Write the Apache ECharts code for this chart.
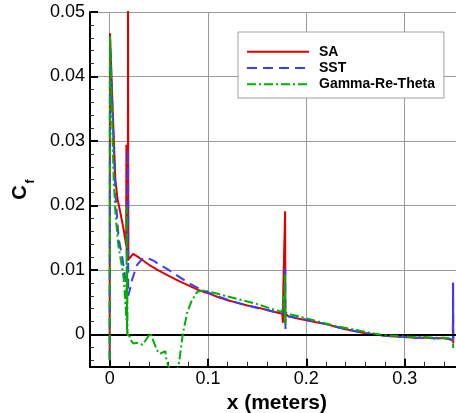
<!DOCTYPE html>
<html>
<head>
<meta charset="utf-8">
<script src="https://cdn.jsdelivr.net/npm/echarts@6/dist/echarts.min.js"></script>
<style>html,body{margin:0;padding:0;background:#fff;}#chart{width:456px;height:413px;}</style>
</head>
<body>
<div id="chart"></div>
<script>
// ---- data (x in meters, Cf) ----
const seriesNames = ['SA', 'SST', 'Gamma-Re-Theta'];

const saData = [
  [0, -0.0037], [0.0003, 0.0467], [0.003, 0.0352], [0.0058, 0.0240], [0.008, 0.0210],
  [0.011, 0.0188], [0.0143, 0.0162], [0.0168, 0.0138], [0.0170, 0.0294], [0.0173, 0.0125],
  [0.0185, 0.0114], [0.0187, 0.0560], [0.0190, 0.0116], [0.0204, 0.0116], [0.0238, 0.0125],
  [0.03, 0.0119], [0.04, 0.0108], [0.05, 0.0099], [0.06, 0.0091], [0.07, 0.0083],
  [0.08, 0.0076], [0.09, 0.0069], [0.10, 0.0064], [0.11, 0.0058], [0.12, 0.0053],
  [0.13, 0.0049], [0.14, 0.0045], [0.15, 0.0042], [0.16, 0.0038], [0.17, 0.0034],
  [0.1755, 0.0032], [0.1762, 0.0018], [0.1765, 0.0069], [0.1782, 0.0069], [0.1784, 0.0191],
  [0.1787, 0.0032], [0.182, 0.0028], [0.19, 0.0025], [0.20, 0.0022], [0.21, 0.0019],
  [0.22, 0.0016], [0.23, 0.0012], [0.24, 0.0008], [0.25, 0.0005], [0.26, 0.0002],
  [0.27, 0.0000], [0.28, -0.0002], [0.29, -0.0003], [0.30, -0.0004], [0.31, -0.0005],
  [0.32, -0.0005], [0.33, -0.0006], [0.34, -0.0006], [0.3465, -0.0008], [0.3490, -0.0010],
  [0.3492, 0.0080], [0.3494, -0.0014]
];

const sstData = [
  [0, -0.0040], [0.0003, 0.0462], [0.003, 0.0340], [0.006, 0.0215], [0.009, 0.0150],
  [0.013, 0.0118], [0.016, 0.0085], [0.0175, 0.0069], [0.0185, 0.0072], [0.0187, 0.0287],
  [0.0189, 0.0060], [0.021, 0.0072], [0.0228, 0.0085], [0.0279, 0.0108], [0.033, 0.0117],
  [0.038, 0.0119], [0.045, 0.0114], [0.05, 0.0109], [0.06, 0.0100], [0.07, 0.0090],
  [0.08, 0.0080], [0.09, 0.0072], [0.10, 0.0065], [0.11, 0.0059], [0.12, 0.0054],
  [0.13, 0.0049], [0.14, 0.0045], [0.15, 0.0041], [0.16, 0.0038], [0.17, 0.0034],
  [0.1780, 0.0033], [0.1785, 0.0103], [0.1787, 0.0007], [0.1790, 0.0030], [0.182, 0.0028],
  [0.19, 0.0026], [0.20, 0.0023], [0.21, 0.0019], [0.22, 0.0016], [0.23, 0.0012],
  [0.24, 0.0008], [0.25, 0.0005], [0.26, 0.0002], [0.27, 0.0000], [0.28, -0.0002],
  [0.29, -0.0003], [0.30, -0.0004], [0.31, -0.0005], [0.32, -0.0005], [0.33, -0.0006],
  [0.34, -0.0006], [0.3465, -0.0007], [0.3490, -0.0009], [0.3492, 0.0080], [0.3494, -0.0015]
];

const grtData = [
  [0, -0.0040], [0.0003, 0.0462], [0.002, 0.0360], [0.0041, 0.0240], [0.006, 0.0185],
  [0.009, 0.0136], [0.012, 0.0110], [0.014, 0.0090], [0.0158, 0.0055], [0.0170, 0.0023],
  [0.0173, 0.0198], [0.0176, 0.0002], [0.0178, 0.0100], [0.0182, -0.0002], [0.0193, 0.0002],
  [0.021, -0.0008], [0.024, -0.0014], [0.028, -0.0013], [0.0335, -0.0016], [0.0414, 0.0002],
  [0.048, -0.0024], [0.051, -0.0030], [0.053, -0.0028], [0.0566, -0.0026], [0.058, -0.0042],
  [0.064, -0.0065], [0.070, -0.0050], [0.0743, 0.0000], [0.0787, 0.0033], [0.083, 0.0051],
  [0.0889, 0.0066], [0.095, 0.0068], [0.10, 0.0067], [0.11, 0.0063], [0.12, 0.0059],
  [0.13, 0.0055], [0.14, 0.0051], [0.15, 0.0047], [0.16, 0.0042], [0.17, 0.0037],
  [0.1755, 0.0035], [0.1765, 0.0060], [0.1775, 0.0040], [0.1782, 0.0093], [0.1785, 0.0015],
  [0.1790, 0.0034], [0.184, 0.0031], [0.19, 0.0029], [0.20, 0.0025], [0.21, 0.0021],
  [0.22, 0.0017], [0.23, 0.0013], [0.24, 0.0010], [0.25, 0.0007], [0.26, 0.0004],
  [0.27, 0.0001], [0.28, -0.0001], [0.29, -0.0002], [0.30, -0.0003], [0.31, -0.0004],
  [0.32, -0.0004], [0.33, -0.0005], [0.34, -0.0005], [0.3465, -0.0006], [0.3490, -0.0008],
  [0.3493, -0.0021]
];

// ---- axis ticks ----
const xMajor = [0, 0.1, 0.2, 0.3];
const xMinor = [0.02, 0.04, 0.06, 0.08, 0.12, 0.14, 0.16, 0.18, 0.22, 0.24, 0.26, 0.28, 0.32, 0.34];
const yMajor = [0, 0.01, 0.02, 0.03, 0.04, 0.05];
const yMinor = [-0.004, -0.002, 0.002, 0.004, 0.006, 0.008, 0.012, 0.014, 0.016, 0.018,
  0.022, 0.024, 0.026, 0.028, 0.032, 0.034, 0.036, 0.038, 0.042, 0.044, 0.046, 0.048];

const X_MIN = -0.02, X_MAX = 0.36, Y_MIN = -0.005, Y_MAX = 0.05;

const FONT = '"Liberation Sans", Arial, sans-serif';
const colors = ['#e00000', '#3c3cff', '#00b000'];

const chart = echarts.init(document.getElementById('chart'), null, {renderer: 'canvas'});

function xAxisBase(extra) {
  return Object.assign({
    type: 'value', min: X_MIN, max: X_MAX, gridIndex: 0, position: 'bottom'
  }, extra);
}
function yAxisBase(extra) {
  return Object.assign({
    type: 'value', min: Y_MIN, max: Y_MAX, gridIndex: 0, position: 'left'
  }, extra);
}

const option = {
  animation: false,
  backgroundColor: '#fff',
  grid: {left: 90, top: 12, width: 373.7, height: 354.7, containLabel: false, outerBoundsMode: 'none'},
  xAxis: [
    xAxisBase({
      name: 'x (meters)', nameLocation: 'middle', nameGap: 20,
      nameTextStyle: {fontFamily: FONT, fontWeight: 'bold', fontSize: 21, color: '#000'},
      axisLine: {show: true, onZero: false, lineStyle: {color: '#000', width: 2}},
      axisTick: {show: true, inside: true, length: 8, customValues: xMajor, lineStyle: {color: '#000', width: 2}},
      axisLabel: {show: true, customValues: xMajor, fontFamily: FONT, fontSize: 18, color: '#000', margin: 3},
      splitLine: {show: true, lineStyle: {color: '#9a9a9a', width: 1}}
    }),
    xAxisBase({
      axisLine: {show: false, onZero: false},
      axisTick: {show: true, inside: true, length: 5, customValues: xMinor, lineStyle: {color: '#333', width: 1}},
      axisLabel: {show: false},
      splitLine: {show: false}
    })
  ],
  yAxis: [
    yAxisBase({
      axisLine: {show: true, onZero: false, lineStyle: {color: '#000', width: 2}},
      axisTick: {show: true, inside: true, length: 8, customValues: yMajor, lineStyle: {color: '#000', width: 2}},
      axisLabel: {show: true, customValues: yMajor, fontFamily: FONT, fontSize: 18, color: '#000', margin: 5},
      splitLine: {show: true, lineStyle: {color: '#9a9a9a', width: 1}}
    }),
    yAxisBase({
      axisLine: {show: false, onZero: false},
      axisTick: {show: true, inside: true, length: 4, customValues: yMinor, lineStyle: {color: '#333', width: 1}},
      axisLabel: {show: false},
      splitLine: {show: false}
    })
  ],
  legend: {
    left: 238, top: 32, orient: 'vertical',
    data: seriesNames,
    itemWidth: 62, itemHeight: 14, itemGap: 2.3,
    padding: [12.7, 9, 6.7, 8],
    backgroundColor: '#fff', borderColor: '#a0a0a0', borderWidth: 1, borderRadius: 0,
    itemStyle: {opacity: 0},
    textStyle: {fontFamily: FONT, fontWeight: 'bold', fontSize: 14, color: '#000', lineHeight: 14, padding: [0, 0, 0, 5]},
    selectedMode: false
  },
  graphic: [
    {type: 'text', x: 20.5, y: 192.5, rotation: Math.PI / 2, z: 100,
     style: {text: 'C', font: 'bold 20px ' + FONT, fill: '#000', align: 'center', verticalAlign: 'middle', textAlign: 'center', textVerticalAlign: 'middle'}},
    {type: 'text', x: 31, y: 181.5, rotation: Math.PI / 2, z: 100,
     style: {text: 'f', font: 'bold 12px ' + FONT, fill: '#000', align: 'center', verticalAlign: 'middle', textAlign: 'center', textVerticalAlign: 'middle'}}
  ],
  series: [
    {
      name: seriesNames[0], type: 'line', data: saData, xAxisIndex: 0, yAxisIndex: 0,
      symbol: 'none', showSymbol: false, clip: true, z: 3,
      lineStyle: {color: colors[0], width: 2, type: 'solid'},
      itemStyle: {color: colors[0]},
      markLine: {
        silent: true, symbol: 'none', animation: false,
        label: {show: false},
        lineStyle: {color: '#000', width: 2, type: 'solid'},
        data: [{yAxis: 0}]
      }
    },
    {
      name: seriesNames[1], type: 'line', data: sstData, xAxisIndex: 0, yAxisIndex: 0,
      symbol: 'none', showSymbol: false, clip: true, z: 4,
      lineStyle: {color: colors[1], width: 2, type: [10, 6]},
      itemStyle: {color: colors[1]}
    },
    {
      name: seriesNames[2], type: 'line', data: grtData, xAxisIndex: 0, yAxisIndex: 0,
      symbol: 'none', showSymbol: false, clip: true, z: 5,
      lineStyle: {color: colors[2], width: 2, type: [9, 3, 2, 3]},
      itemStyle: {color: colors[2]}
    }
  ]
};
chart.setOption(option);
</script>
</body>
</html>
